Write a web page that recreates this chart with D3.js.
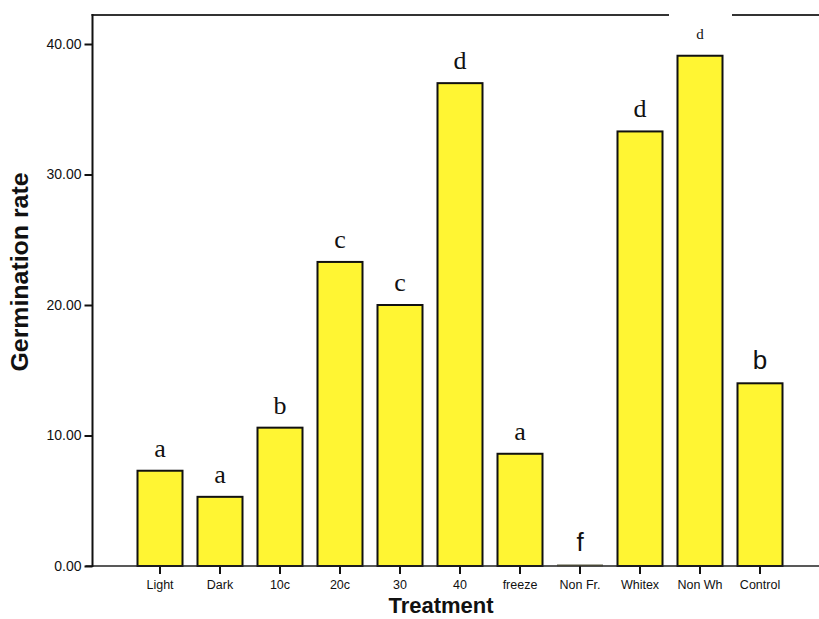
<!DOCTYPE html>
<html>
<head>
<meta charset="utf-8">
<script src="https://cdn.jsdelivr.net/npm/d3@7"></script>
<style>
  html, body { margin: 0; padding: 0; background: #fff; }
  svg { display: block; }
</style>
</head>
<body>
<svg id="chart" width="819" height="619"></svg>
<script>
// ---- data ----
const categories = ["Light", "Dark", "10c", "20c", "30", "40", "freeze", "Non Fr.", "Whitex", "Non Wh", "Control"];
const germinationRate = [7.3, 5.3, 10.6, 23.3, 20.0, 37.0, 8.6, 0.1, 33.3, 39.1, 14.0];
const groupLetters = ["a", "a", "b", "c", "c", "d", "a", "f", "d", "d", "b"];
const yTicks = [0, 10, 20, 30, 40];

// ---- layout ----
const svg = d3.select("#chart");
const axisX = 92.5, topY = 15, baseY = 566;

const x = d3.scaleBand()
  .domain(categories)
  .range([130, 790])
  .paddingInner(0.25)
  .paddingOuter(0.125);

const y = d3.scaleLinear()
  .domain([0, 40])
  .range([baseY, 44]);

// top frame line
svg.append("line")
  .attr("x1", axisX - 1).attr("x2", 819)
  .attr("y1", topY).attr("y2", topY)
  .attr("stroke", "#333").attr("stroke-width", 2);

// bars
svg.append("g").selectAll("rect")
  .data(categories)
  .join("rect")
  .attr("x", d => x(d))
  .attr("width", x.bandwidth())
  .attr("y", (d, i) => y(germinationRate[i]))
  .attr("height", (d, i) => baseY - y(germinationRate[i]))
  .attr("fill", "#fff533")
  .attr("stroke", (d, i) => (baseY - y(germinationRate[i])) < 3 ? "#999" : "#111")
  .attr("stroke-width", (d, i) => (baseY - y(germinationRate[i])) < 3 ? 1 : 2);

// x axis
const xAxis = svg.append("g")
  .attr("transform", `translate(0,${baseY})`)
  .call(d3.axisBottom(x).tickSize(8).tickSizeOuter(0));
xAxis.select(".domain").remove();
xAxis.selectAll(".tick line").attr("stroke", "#111").attr("stroke-width", 2);
xAxis.selectAll(".tick text")
  .attr("y", 14)
  .attr("dy", "0.71em")
  .attr("font-family", "Liberation Sans, Arial, sans-serif")
  .attr("font-size", 12.5)
  .attr("fill", "#111");
svg.append("line")
  .attr("x1", axisX - 7).attr("x2", 819)
  .attr("y1", baseY).attr("y2", baseY)
  .attr("stroke", "#222").attr("stroke-width", 1.5);

// y axis
const yAxis = svg.append("g")
  .attr("transform", `translate(${axisX},0)`)
  .call(d3.axisLeft(y).tickValues(yTicks).tickFormat(d3.format(".2f")).tickSize(8).tickSizeOuter(0));
yAxis.select(".domain").remove();
yAxis.selectAll(".tick line").attr("stroke", "#111").attr("stroke-width", 2);
yAxis.selectAll(".tick text")
  .attr("x", -11)
  .attr("font-family", "Liberation Sans, Arial, sans-serif")
  .attr("font-size", 14)
  .attr("fill", "#111");
svg.append("line")
  .attr("x1", axisX).attr("x2", axisX)
  .attr("y1", topY - 1).attr("y2", baseY + 1)
  .attr("stroke", "#111").attr("stroke-width", 2);

// axis titles
svg.append("text")
  .attr("x", 441).attr("y", 613)
  .attr("text-anchor", "middle")
  .attr("font-family", "Liberation Sans, Arial, sans-serif")
  .attr("font-weight", "bold")
  .attr("font-size", 22)
  .attr("fill", "#111")
  .text("Treatment");

svg.append("text")
  .attr("transform", "translate(28,272) rotate(-90)")
  .attr("text-anchor", "middle")
  .attr("font-family", "Liberation Sans, Arial, sans-serif")
  .attr("font-weight", "bold")
  .attr("font-size", 23)
  .attr("textLength", 199)
  .attr("lengthAdjust", "spacingAndGlyphs")
  .attr("fill", "#111")
  .text("Germination rate");

// white patch behind small label (as in the source)
const nwIdx = categories.indexOf("Non Wh");
svg.append("rect")
  .attr("x", x("Non Wh") + x.bandwidth() / 2 - 31)
  .attr("y", topY - 4)
  .attr("width", 63)
  .attr("height", 30)
  .attr("fill", "#fff");

// significance letters
svg.append("g").selectAll("text")
  .data(groupLetters)
  .join("text")
  .attr("x", (d, i) => x(categories[i]) + x.bandwidth() / 2)
  .attr("y", (d, i) => y(germinationRate[i]) - (i === nwIdx ? 17 : 14))
  .attr("text-anchor", "middle")
  .attr("font-family", (d, i) => (categories[i] === "Non Fr." || categories[i] === "Control")
    ? "Liberation Sans, Arial, sans-serif" : "Liberation Serif, Times New Roman, serif")
  .attr("font-size", (d, i) => i === nwIdx ? 15 : 26)
  .attr("fill", "#111")
  .text(d => d);
</script>
</body>
</html>
